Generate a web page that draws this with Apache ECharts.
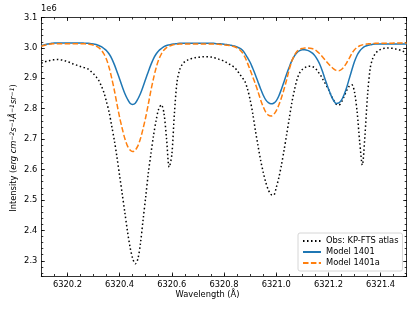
<!DOCTYPE html>
<html><head><meta charset="utf-8">
<script src="https://cdn.jsdelivr.net/npm/echarts@6/dist/echarts.min.js"></script>
<style>html,body{margin:0;padding:0;background:#fff}#c{width:415px;height:312px}</style>
</head><body><div id="c"></div><script>
const wavelength = [
6320.10,6320.11,6320.12,6320.13,6320.14,6320.15,6320.16,6320.17,6320.18,6320.19,
6320.20,6320.21,6320.22,6320.23,6320.24,6320.25,6320.26,6320.27,6320.28,6320.29,
6320.30,6320.31,6320.32,6320.33,6320.34,6320.35,6320.36,6320.37,6320.38,6320.39,
6320.40,6320.41,6320.42,6320.43,6320.44,6320.45,6320.46,6320.47,6320.48,6320.49,
6320.50,6320.51,6320.52,6320.53,6320.54,6320.55,6320.56,6320.57,6320.58,6320.59,
6320.60,6320.61,6320.62,6320.63,6320.64,6320.65,6320.66,6320.67,6320.68,6320.69,
6320.70,6320.71,6320.72,6320.73,6320.74,6320.75,6320.76,6320.77,6320.78,6320.79,
6320.80,6320.81,6320.82,6320.83,6320.84,6320.85,6320.86,6320.87,6320.88,6320.89,
6320.90,6320.91,6320.92,6320.93,6320.94,6320.95,6320.96,6320.97,6320.98,6320.99,
6321.00,6321.01,6321.02,6321.03,6321.04,6321.05,6321.06,6321.07,6321.08,6321.09,
6321.10,6321.11,6321.12,6321.13,6321.14,6321.15,6321.16,6321.17,6321.18,6321.19,
6321.20,6321.21,6321.22,6321.23,6321.24,6321.25,6321.26,6321.27,6321.28,6321.29,
6321.30,6321.31,6321.32,6321.33,6321.34,6321.35,6321.36,6321.37,6321.38,6321.39,
6321.40,6321.41,6321.42,6321.43,6321.44,6321.45,6321.46,6321.47,6321.48,6321.49,
6321.50];
// intensities in units of 1e6
const obsKPFTS = [
2.950,2.953,2.956,2.958,2.960,2.961,2.962,2.961,2.960,2.958,
2.955,2.952,2.948,2.945,2.942,2.939,2.936,2.934,2.930,2.923,
2.915,2.905,2.893,2.875,2.853,2.822,2.788,2.742,2.695,2.640,
2.580,2.520,2.459,2.398,2.345,2.308,2.290,2.306,2.358,2.435,
2.510,2.588,2.652,2.712,2.762,2.800,2.813,2.785,2.700,2.608,
2.648,2.785,2.888,2.928,2.946,2.955,2.960,2.964,2.966,2.968,
2.969,2.970,2.971,2.971,2.971,2.970,2.968,2.966,2.963,2.960,
2.957,2.952,2.947,2.942,2.936,2.926,2.914,2.902,2.890,2.865,
2.830,2.785,2.730,2.680,2.632,2.592,2.558,2.533,2.518,2.516,
2.540,2.573,2.615,2.663,2.715,2.768,2.820,2.862,2.897,2.918,
2.929,2.935,2.939,2.940,2.938,2.933,2.922,2.910,2.895,2.880,
2.864,2.845,2.828,2.815,2.812,2.822,2.840,2.860,2.874,2.879,
2.855,2.790,2.690,2.615,2.712,2.845,2.932,2.966,2.982,2.990,
2.995,2.998,2.999,3.000,2.999,2.998,2.996,2.994,2.991,2.987,
2.981];
const model1401 = [
3.007,3.010,3.012,3.014,3.015,3.016,3.016,3.016,3.016,3.016,
3.016,3.016,3.016,3.016,3.016,3.016,3.016,3.015,3.015,3.014,
3.013,3.011,3.008,3.004,2.998,2.991,2.980,2.965,2.945,2.922,
2.898,2.873,2.850,2.832,2.818,2.814,2.818,2.832,2.850,2.873,
2.898,2.922,2.945,2.965,2.980,2.991,2.998,3.004,3.008,3.010,
3.012,3.013,3.014,3.015,3.015,3.015,3.015,3.015,3.015,3.015,
3.015,3.015,3.015,3.015,3.015,3.015,3.015,3.014,3.014,3.013,
3.012,3.011,3.010,3.008,3.006,3.003,2.999,2.993,2.982,2.968,
2.953,2.933,2.912,2.889,2.866,2.845,2.829,2.820,2.816,2.818,
2.826,2.842,2.864,2.889,2.914,2.937,2.958,2.974,2.985,2.991,
2.994,2.994,2.992,2.988,2.982,2.972,2.958,2.940,2.916,2.890,
2.866,2.844,2.827,2.817,2.819,2.828,2.846,2.870,2.899,2.928,
2.955,2.976,2.990,2.999,3.005,3.008,3.010,3.012,3.013,3.013,
3.013,3.013,3.013,3.013,3.013,3.013,3.013,3.013,3.013,3.013,
3.013];
const model1401a = [
3.005,3.008,3.010,3.012,3.013,3.014,3.014,3.014,3.014,3.014,
3.014,3.014,3.014,3.014,3.014,3.014,3.014,3.013,3.012,3.011,
3.009,3.006,3.001,2.993,2.980,2.962,2.935,2.900,2.860,2.815,
2.772,2.735,2.702,2.678,2.664,2.659,2.664,2.678,2.702,2.735,
2.772,2.815,2.860,2.900,2.935,2.962,2.980,2.993,3.001,3.006,
3.009,3.011,3.012,3.013,3.013,3.013,3.013,3.013,3.013,3.013,
3.013,3.013,3.013,3.013,3.013,3.013,3.013,3.013,3.012,3.011,
3.010,3.009,3.008,3.006,3.004,3.000,2.994,2.985,2.970,2.950,
2.928,2.905,2.882,2.857,2.830,2.807,2.789,2.779,2.776,2.781,
2.793,2.812,2.836,2.864,2.895,2.929,2.957,2.976,2.989,2.995,
2.998,3.000,3.000,2.999,2.997,2.993,2.986,2.978,2.968,2.958,
2.948,2.939,2.931,2.926,2.925,2.929,2.938,2.951,2.966,2.982,
2.994,3.002,3.007,3.010,3.012,3.013,3.014,3.014,3.015,3.015,
3.015,3.015,3.015,3.015,3.015,3.016,3.016,3.016,3.016,3.016,
3.016];
const seriesNames = ['Obs: KP-FTS atlas', 'Model 1401', 'Model 1401a'];
const xRange = [6320.1, 6321.5];
const yRange = [2.25, 3.1];

const FONT = 'DejaVu Sans';
const FS = 8.3;
const pairs = arr => wavelength.map((w, i) => [w, arr[i]]);
const lineCol = '#000';

function xAx(pos, major) {
  const a = {
    type: 'value', min: xRange[0], max: xRange[1], position: pos,
    axisLine: { show: major, onZero: false, lineStyle: { color: lineCol, width: 0.8 } },
    axisTick: { show: true, inside: true, length: major ? 3.5 : 2, lineStyle: { color: lineCol, width: 0.8 } },
    axisLabel: { show: major && pos === 'bottom', showMinLabel: false, showMaxLabel: false,
      formatter: v => v.toFixed(1), fontSize: FS, fontFamily: FONT, color: '#000', margin: 5 },
    splitLine: { show: false }
  };
  if (major) { a.splitNumber = 7; } else { a.interval = 0.05; }
  return a;
}
function yAx(pos, major) {
  return {
    type: 'value', min: yRange[0], max: yRange[1], position: pos,
    splitNumber: major ? 8 : 42,
    axisLine: { show: major, onZero: false, lineStyle: { color: lineCol, width: 0.8 } },
    axisTick: { show: true, inside: true, length: major ? 3.5 : 2, lineStyle: { color: lineCol, width: 0.8 } },
    axisLabel: { show: major && pos === 'left', showMinLabel: false,
      formatter: v => v.toFixed(1), fontSize: FS, fontFamily: FONT, color: '#000', margin: 4 },
    splitLine: { show: false }
  };
}

const chart = echarts.init(document.getElementById('c'), null, { renderer: 'canvas' });
chart.setOption({
  animation: false,
  backgroundColor: '#fff',
  grid: { left: 41.3, right: 8.3, top: 17.5, bottom: 36 },
  xAxis: [xAx('bottom', true), xAx('bottom', false), xAx('top', true), xAx('top', false)],
  yAxis: [yAx('left', true), yAx('left', false), yAx('right', true), yAx('right', false)],
  legend: {
    orient: 'vertical', left: 298, top: 233,
    data: seriesNames,
    itemWidth: 18, itemHeight: 8, itemGap: 3,
    padding: [4, 4, 4, 4],
    borderColor: '#cccccc', borderWidth: 0.8, borderRadius: 2,
    backgroundColor: 'rgba(255,255,255,0.8)',
    itemStyle: { opacity: 0, color: 'transparent', borderColor: 'transparent', borderWidth: 0 },
    textStyle: { fontSize: FS, fontFamily: FONT, color: '#000' }
  },
  series: [
    { name: seriesNames[0], type: 'line', data: pairs(obsKPFTS), symbol: 'none', smooth: 0.3,
      lineStyle: { color: '#000', width: 1.5, type: [1.5, 2.5] }, itemStyle: { color: '#000' }, z: 2 },
    { name: seriesNames[1], type: 'line', data: pairs(model1401), symbol: 'none', smooth: 0.3,
      lineStyle: { color: '#1f77b4', width: 1.5, type: 'solid' }, itemStyle: { color: '#1f77b4' }, z: 3 },
    { name: seriesNames[2], type: 'line', data: pairs(model1401a), symbol: 'none', smooth: 0.3,
      lineStyle: { color: '#ff7f0e', width: 1.5, type: [5.5, 2.4] }, itemStyle: { color: '#ff7f0e' }, z: 4 }
  ],
  graphic: [
    { type: 'text', left: 41, top: 5, style: { text: '1e6', fontSize: FS, fontFamily: FONT, fill: '#000' } },
    { type: 'text', left: 'center', top: 291, style: { text: 'Wavelength (Å)', fontSize: FS, fontFamily: FONT, fill: '#000' } },
    { type: 'text', x: 14, y: 148, rotation: Math.PI / 2,
      style: {
        text: 'Intensity ({i|erg cm}{s|−2}{i|s}{s|−1}{i|Å}{s|−1}{i|sr}{s|−1})',
        fontSize: FS, fontFamily: FONT, fill: '#000', align: 'center', verticalAlign: 'middle',
        rich: {
          i: { fontSize: FS, fontFamily: FONT, fontStyle: 'italic', fill: '#000' },
          s: { fontSize: 6, fontFamily: FONT, fontStyle: 'italic', fill: '#000', verticalAlign: 'top', lineHeight: 10 }
        }
      } }
  ]
});
</script></body></html>
